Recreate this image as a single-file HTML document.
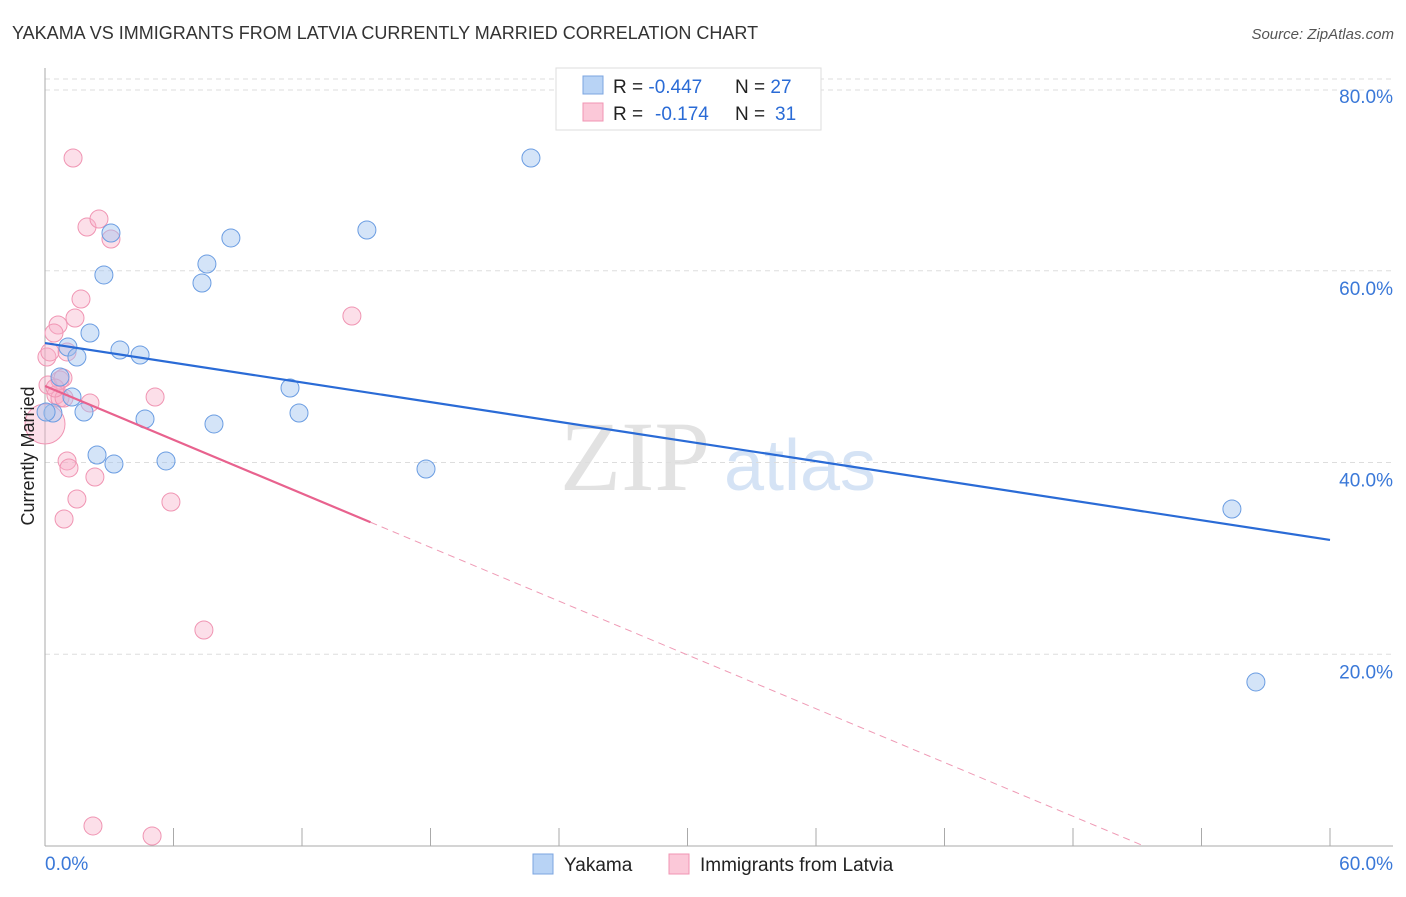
<!DOCTYPE html>
<html><head><meta charset="utf-8"><style>
body{margin:0;background:#fff;font-family:"Liberation Sans",sans-serif;}
</style></head><body>
<svg id="chart" width="1406" height="892" viewBox="0 0 1406 892" xmlns="http://www.w3.org/2000/svg" font-family="Liberation Sans, sans-serif">
<text x="12" y="39" font-size="18" fill="#333">YAKAMA VS IMMIGRANTS FROM LATVIA CURRENTLY MARRIED CORRELATION CHART</text>
<text x="1394" y="39" font-size="15" fill="#555" font-style="italic" text-anchor="end">Source: ZipAtlas.com</text>
<g>
<text x="635" y="490" font-size="100" font-family="Liberation Serif, serif" fill="#e2e2e2" text-anchor="middle">ZIP</text>
<text x="800" y="490" font-size="72" fill="#d5e3f5" text-anchor="middle">atlas</text>
</g>
<g id="grid"></g>
<g id="axes"></g>
<g id="marks"></g>
<text transform="translate(34,456) rotate(-90)" font-size="18" fill="#222" text-anchor="middle">Currently Married</text>
<g>
<rect x="556" y="68" width="265" height="62" fill="#fff" stroke="#ddd"/>
<rect x="583" y="76" width="20" height="18" fill="#b8d3f5" stroke="#7ba4e0"/>
<rect x="583" y="103" width="20" height="18" fill="#fbc8d8" stroke="#f095b3"/>
<text x="613" y="93" font-size="19" fill="#222">R = <tspan fill="#2a6bd6">-0.447</tspan><tspan x="735">N = </tspan><tspan fill="#2a6bd6">27</tspan></text>
<text x="613" y="120" font-size="19" fill="#222">R = <tspan fill="#2a6bd6" x="655">-0.174</tspan><tspan x="735">N = </tspan><tspan fill="#2a6bd6" x="775">31</tspan></text>
</g>
<g>
<rect x="533" y="854" width="20" height="20" fill="#b8d3f5" stroke="#7ba4e0"/>
<text x="564" y="871" font-size="19" fill="#222">Yakama</text>
<rect x="669" y="854" width="20" height="20" fill="#fbc8d8" stroke="#f095b3"/>
<text x="700" y="871" font-size="19" fill="#222">Immigrants from Latvia</text>
</g>
</svg>
<script>
const yTicks=[20,40,60,80];
const yTickLabels=["20.0%","40.0%","60.0%","80.0%"];
const xTicks=[0,6,12,18,24,30,36,42,48,54,60];
const xTickLabels=["0.0%","60.0%"];
const yakamaX=[3.08,2.75,2.10,1.07,3.50,4.44,1.49,0.70,1.26,1.82,0.37,4.67,2.43,3.22,5.65,7.33,7.56,8.68,11.44,11.86,7.89,15.03,17.79,22.69,55.42,56.54,0.05];
const yakamaY=[63.94,59.56,53.51,52.05,51.73,51.21,51.00,48.92,46.83,45.27,45.16,44.54,40.78,39.84,40.16,58.72,60.70,63.42,47.77,45.16,44.02,64.25,39.32,71.76,35.15,17.11,45.27];
const latviaX=[1.31,1.96,2.52,3.08,1.68,1.40,0.61,0.42,0.09,1.03,0.14,0.70,0.84,2.10,0.51,0.70,0.89,5.14,14.33,1.03,1.12,2.33,1.49,0.89,5.88,7.42,2.24,5.00,0.23,0.0,0.47];
const latviaY=[71.76,64.56,65.40,63.31,57.05,55.07,54.34,53.51,51.00,51.53,48.08,48.60,48.81,46.21,47.04,46.73,46.73,46.83,55.28,40.16,39.43,38.49,36.19,34.11,35.88,22.53,2.09,1.04,51.53,44.02,47.77];
const latviaR=[9,9,9,9,9,9,9,9,9,9,9,9,9,9,9,9,9,9,9,9,9,9,9,9,9,9,9,9,9,20,9];
const yakamaTrend=[52.46,31.92];   // y at x=0 and x=60
const latviaTrend=[47.98,-0.935,15.2]; // intercept, slope, solid end
const NS='http://www.w3.org/2000/svg';
const X=v=>45+v*(1285/60);
const Y=v=>846-v*(767/80);
function mk(tag,attrs,parent){const e=document.createElementNS(NS,tag);for(const k in attrs)e.setAttribute(k,attrs[k]);parent.appendChild(e);return e;}
const grid=document.getElementById('grid'),axes=document.getElementById('axes'),marks=document.getElementById('marks');
yTicks.forEach((t,i)=>{
 const l=mk('line',{x1:45,x2:1393,y1:Y(t),y2:Y(t),stroke:'#ddd','stroke-dasharray':'5,4'},grid);
 
 
 const tx=mk('text',{x:1393,y:Y(t)+24,'font-size':19,fill:'#3a78d8','text-anchor':'end'},axes);
 tx.textContent=yTickLabels[i];
 
 
});
const topGrid=mk('line',{x1:45,x2:1393,y1:Y(78.85),y2:Y(78.85),stroke:'#ddd','stroke-dasharray':'5,4'},grid);
const ya=mk('line',{x1:45,x2:45,y1:68,y2:846,stroke:'#aaa'},axes);


const xa=mk('line',{x1:45,x2:1393,y1:846,y2:846,stroke:'#aaa'},axes);


xTicks.forEach(t=>{
 const l=mk('line',{x1:X(t),x2:X(t),y1:828,y2:846,stroke:'#aaa'},axes);
 
 
});
const xl0=mk('text',{x:45,y:870,'font-size':19,fill:'#3a78d8'},axes);
xl0.textContent=xTickLabels[0];


const xl1=mk('text',{x:1393,y:870,'font-size':19,fill:'#3a78d8','text-anchor':'end'},axes);
xl1.textContent=xTickLabels[1];


latviaX.forEach((x,i)=>{
 const c=mk('circle',{cx:X(x),cy:Y(latviaY[i]),r:latviaR[i],fill:'rgba(248,175,200,0.4)',stroke:'#f095b3','stroke-width':1},marks);
 
 
});
yakamaX.forEach((x,i)=>{
 const c=mk('circle',{cx:X(x),cy:Y(yakamaY[i]),r:9,fill:'rgba(160,196,240,0.45)',stroke:'#6b9de2','stroke-width':1},marks);
 
 
});
const bt=mk('line',{x1:X(0),y1:Y(yakamaTrend[0]),x2:X(60),y2:Y(yakamaTrend[1]),stroke:'#2a6bd6','stroke-width':2.2},marks);


const pe=latviaTrend[2], zero=-latviaTrend[0]/latviaTrend[1];
const pt=mk('line',{x1:X(0),y1:Y(latviaTrend[0]),x2:X(pe),y2:Y(latviaTrend[0]+latviaTrend[1]*pe),stroke:'#e8628e','stroke-width':2.2},marks);


const pd=mk('line',{x1:X(pe),y1:Y(latviaTrend[0]+latviaTrend[1]*pe),x2:X(zero),y2:Y(0),stroke:'#ef9ab5','stroke-width':1,'stroke-dasharray':'7,5'},marks);


</script>
</body></html>
